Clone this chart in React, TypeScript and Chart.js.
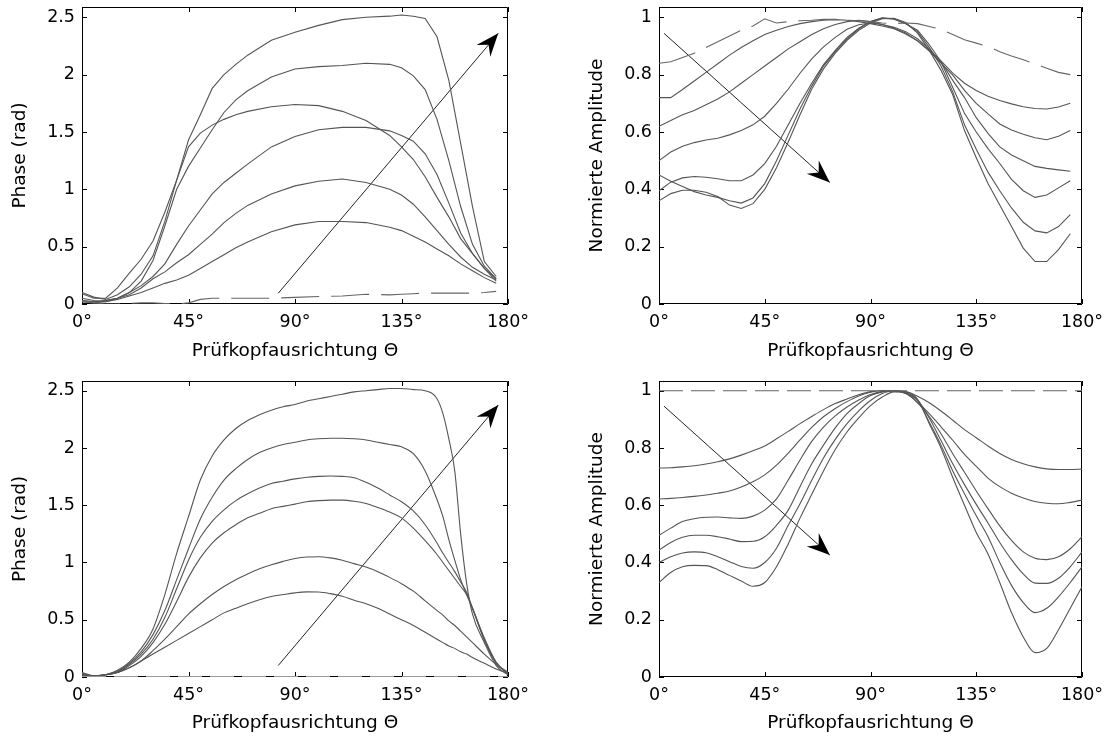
import React, { useEffect, useRef } from 'react';
import { Chart, registerables } from 'chart.js';

Chart.register(...registerables);
Chart.defaults.font.family = "'DejaVu Sans', sans-serif";
Chart.defaults.color = '#000';

// ---------- shared axis ticks ----------
const xTickValues = [0, 45, 90, 135, 180];
const phaseTickValues = [0, 0.5, 1, 1.5, 2, 2.5];
const ampTickValues = [0, 0.2, 0.4, 0.6, 0.8, 1];

const xTitle = 'Prüfkopfausrichtung Θ';
const phaseTitle = 'Phase (rad)';
const ampTitle = 'Normierte Amplitude';

// ---------- top-left: measured phase ----------
const tlAngles = [0, 5, 10, 15, 20, 25, 30, 35, 40, 45, 50, 55, 60, 65, 70, 80, 90, 100, 110, 120, 130, 135, 140, 145, 150, 155, 160, 165, 170, 175];
const tlRef = [0.02, 0.01, 0, 0, 0.005, 0.01, 0.01, 0.005, 0, 0.01, 0.04, 0.05, 0.05, 0.05, 0.05, 0.05, 0.058, 0.066, 0.07, 0.085, 0.08, 0.085, 0.09, 0.095, 0.095, 0.095, 0.095, 0.095, 0.1, 0.11];
const tlP073 = [0.05, 0.03, 0.02, 0.04, 0.07, 0.1, 0.14, 0.18, 0.21, 0.25, 0.31, 0.37, 0.43, 0.49, 0.54, 0.63, 0.69, 0.72, 0.72, 0.71, 0.67, 0.64, 0.59, 0.54, 0.48, 0.42, 0.35, 0.29, 0.23, 0.18];
const tlP110 = [0.03, 0.02, 0.03, 0.05, 0.08, 0.14, 0.22, 0.28, 0.36, 0.43, 0.52, 0.61, 0.71, 0.79, 0.86, 0.96, 1.03, 1.07, 1.09, 1.06, 1.0, 0.95, 0.87, 0.76, 0.64, 0.52, 0.41, 0.32, 0.26, 0.21];
const tlP154 = [0.02, 0.01, 0.02, 0.05, 0.1, 0.16, 0.24, 0.35, 0.52, 0.68, 0.82, 0.96, 1.06, 1.14, 1.22, 1.37, 1.46, 1.52, 1.54, 1.54, 1.51, 1.47, 1.42, 1.31, 1.13, 0.88, 0.62, 0.44, 0.31, 0.22];
const tlP174 = [0.09, 0.05, 0.05, 0.14, 0.27, 0.39, 0.55, 0.8, 1.08, 1.37, 1.49, 1.56, 1.61, 1.65, 1.68, 1.72, 1.74, 1.73, 1.68, 1.6, 1.47, 1.37, 1.26, 1.11, 0.93, 0.76, 0.57, 0.44, 0.31, 0.2];
const tlP210 = [0.03, 0.02, 0.03, 0.05, 0.1, 0.2, 0.38, 0.68, 1.0, 1.2, 1.36, 1.52, 1.67, 1.78, 1.86, 1.98, 2.05, 2.07, 2.08, 2.1, 2.09, 2.06, 1.99, 1.87, 1.61, 1.25, 0.85, 0.52, 0.33, 0.22];
const tlP250 = [0.1, 0.06, 0.04, 0.08, 0.15, 0.26, 0.42, 0.72, 1.08, 1.43, 1.65, 1.88, 2.0, 2.09, 2.17, 2.3, 2.37, 2.43, 2.48, 2.5, 2.51, 2.52, 2.51, 2.49, 2.33, 1.95, 1.4, 0.85, 0.37, 0.24];
const tlArrowX = [82.9, 175.9];
const tlArrowY = [0.093, 2.36];

// ---------- top-right: measured amplitude ----------
const trAngles = [0, 5, 10, 15, 20, 25, 30, 35, 40, 45, 50, 55, 60, 65, 70, 75, 80, 85, 90, 95, 100, 105, 110, 115, 120, 125, 130, 135, 140, 145, 150, 155, 160, 165, 170, 175];
const trRef = [0.84, 0.845, 0.86, 0.875, 0.895, 0.915, 0.935, 0.955, 0.97, 0.995, 0.98, 0.985, 0.988, 0.99, 0.993, 0.993, 0.99, 0.988, 0.985, 0.98, 0.978, 0.98, 0.978, 0.968, 0.958, 0.94, 0.922, 0.91, 0.898, 0.88, 0.865, 0.852, 0.838, 0.822, 0.808, 0.8];
const trC1 = [0.72, 0.72, 0.748, 0.778, 0.808, 0.838, 0.868, 0.895, 0.918, 0.94, 0.955, 0.968, 0.978, 0.985, 0.99, 0.992, 0.99, 0.985, 0.978, 0.97, 0.96, 0.942, 0.918, 0.885, 0.848, 0.805, 0.77, 0.745, 0.725, 0.71, 0.698, 0.688, 0.682, 0.68, 0.687, 0.7];
const trC2 = [0.62, 0.64, 0.66, 0.675, 0.695, 0.715, 0.74, 0.77, 0.8, 0.83, 0.86, 0.89, 0.915, 0.94, 0.96, 0.975, 0.985, 0.99, 0.985, 0.975, 0.962, 0.945, 0.918, 0.882, 0.84, 0.798, 0.745, 0.7, 0.663, 0.628, 0.607, 0.592, 0.58, 0.573, 0.585, 0.605];
const trC3 = [0.5, 0.53, 0.55, 0.563, 0.572, 0.578, 0.59, 0.605, 0.625, 0.655, 0.7, 0.75, 0.805, 0.855, 0.897, 0.93, 0.958, 0.974, 0.98, 0.975, 0.965, 0.95, 0.925, 0.89, 0.845, 0.78, 0.72, 0.65, 0.595, 0.548, 0.52, 0.5, 0.48, 0.473, 0.468, 0.463];
const trC4 = [0.395, 0.425, 0.44, 0.445, 0.442, 0.437, 0.43, 0.43, 0.45, 0.49, 0.55, 0.625, 0.7, 0.77, 0.835, 0.885, 0.93, 0.962, 0.985, 0.997, 0.993, 0.978, 0.955, 0.905, 0.845, 0.755, 0.665, 0.6, 0.542, 0.49, 0.435, 0.395, 0.372, 0.38, 0.405, 0.43];
const trC5 = [0.45, 0.428, 0.41, 0.392, 0.38, 0.372, 0.36, 0.352, 0.37, 0.42, 0.5, 0.59, 0.68, 0.76, 0.83, 0.88, 0.925, 0.96, 0.985, 0.998, 0.995, 0.978, 0.95, 0.895, 0.83, 0.74, 0.625, 0.54, 0.46, 0.395, 0.335, 0.285, 0.255, 0.248, 0.27, 0.312];
const trC6 = [0.36, 0.385, 0.397, 0.397, 0.39, 0.375, 0.345, 0.333, 0.35, 0.4, 0.475, 0.565, 0.66, 0.75, 0.82, 0.875, 0.92, 0.955, 0.98, 0.995, 0.997, 0.982, 0.945, 0.885, 0.815, 0.73, 0.605, 0.51, 0.42, 0.345, 0.27, 0.195, 0.148, 0.148, 0.19, 0.245];
const trArrowX = [2.16, 72.7];
const trArrowY = [0.944, 0.424];

// ---------- bottom-left: simulated phase ----------
const blAngles = [0, 5, 10, 15, 20, 25, 30, 35, 40, 45, 50, 55, 60, 65, 70, 75, 80, 85, 90, 95, 100, 105, 110, 115, 120, 125, 130, 135, 140, 145, 150, 152.5, 155, 157.5, 160, 162.5, 165, 170, 175, 180];
const blRef = [0.005, 0.005, 0.005, 0.005, 0.005, 0.005, 0.005, 0.005, 0.005, 0.005, 0.005, 0.005, 0.005, 0.005, 0.005, 0.005, 0.005, 0.005, 0.005, 0.005, 0.005, 0.005, 0.005, 0.005, 0.005, 0.005, 0.005, 0.005, 0.005, 0.005, 0.005, 0.005, 0.005, 0.005, 0.005, 0.005, 0.005, 0.005, 0.005, 0.005];
const blP074 = [0.02, 0.01, 0.02, 0.04, 0.08, 0.14, 0.2, 0.26, 0.32, 0.38, 0.44, 0.5, 0.56, 0.6, 0.64, 0.675, 0.703, 0.72, 0.735, 0.743, 0.742, 0.728, 0.705, 0.67, 0.64, 0.6, 0.55, 0.5, 0.45, 0.39, 0.33, 0.3, 0.27, 0.25, 0.22, 0.2, 0.17, 0.12, 0.07, 0.03];
const blP105 = [0.02, 0.01, 0.02, 0.04, 0.08, 0.14, 0.23, 0.33, 0.44, 0.55, 0.64, 0.72, 0.79, 0.85, 0.9, 0.945, 0.98, 1.01, 1.035, 1.048, 1.05, 1.04, 1.02, 0.99, 0.96, 0.92, 0.87, 0.815, 0.75, 0.665, 0.58, 0.54, 0.49, 0.45, 0.4, 0.35, 0.3, 0.2, 0.11, 0.04];
const blP155 = [0.02, 0.01, 0.02, 0.04, 0.1, 0.18, 0.3, 0.46, 0.66, 0.87, 1.04, 1.17, 1.26, 1.33, 1.39, 1.43, 1.47, 1.49, 1.51, 1.53, 1.54, 1.545, 1.545, 1.535, 1.515, 1.48, 1.44, 1.39, 1.3, 1.19, 1.07, 1.0, 0.93, 0.86, 0.79, 0.72, 0.6, 0.34, 0.13, 0.03];
const blP176 = [0.03, 0.01, 0.02, 0.05, 0.11, 0.2, 0.33, 0.52, 0.77, 1.02, 1.22, 1.36, 1.46, 1.54, 1.6, 1.65, 1.69, 1.71, 1.73, 1.745, 1.752, 1.755, 1.752, 1.74, 1.7, 1.65, 1.59, 1.53, 1.45, 1.33, 1.17, 1.08, 1.0, 0.92, 0.83, 0.74, 0.6, 0.32, 0.12, 0.03];
const blP208 = [0.03, 0.01, 0.02, 0.05, 0.12, 0.22, 0.37, 0.58, 0.85, 1.12, 1.38, 1.57, 1.72, 1.82, 1.9, 1.96, 2.0, 2.03, 2.05, 2.07, 2.08, 2.085, 2.085, 2.08, 2.07, 2.05, 2.03, 2.01, 1.95, 1.8, 1.55, 1.4, 1.2, 1.02, 0.85, 0.72, 0.6, 0.33, 0.12, 0.03];
const blP252 = [0.04, 0.01, 0.02, 0.06, 0.13, 0.25, 0.42, 0.72, 1.08, 1.4, 1.72, 1.93, 2.07, 2.17, 2.24, 2.29, 2.33, 2.36, 2.38, 2.41, 2.43, 2.45, 2.47, 2.49, 2.5, 2.51, 2.52, 2.52, 2.51, 2.5, 2.43, 2.3, 2.08, 1.8, 1.25, 0.82, 0.55, 0.3, 0.1, 0.02];
const blArrowX = [82.9, 175.9];
const blArrowY = [0.1, 2.375];

// ---------- bottom-right: simulated amplitude ----------
const brAngles = [0, 5, 10, 15, 20, 25, 30, 35, 40, 45, 50, 55, 60, 65, 70, 75, 80, 85, 90, 95, 100, 105, 110, 115, 120, 125, 130, 135, 140, 145, 150, 155, 160, 165, 170, 175, 180];
const brRef = [1, 1, 1, 1, 1, 1, 1, 1, 1, 1, 1, 1, 1, 1, 1, 1, 1, 1, 1, 1, 1, 1, 1, 1, 1, 1, 1, 1, 1, 1, 1, 1, 1, 1, 1, 1, 1];
const brC1 = [0.73, 0.731, 0.734, 0.738, 0.744, 0.752, 0.762, 0.775, 0.79, 0.807, 0.832, 0.858, 0.885, 0.91, 0.934, 0.955, 0.971, 0.986, 0.997, 1.0, 1.0, 0.997, 0.981, 0.958, 0.929, 0.897, 0.864, 0.836, 0.807, 0.781, 0.76, 0.745, 0.734, 0.727, 0.725, 0.725, 0.726];
const brC2 = [0.622, 0.624, 0.627, 0.631, 0.636, 0.642, 0.65, 0.664, 0.682, 0.706, 0.74, 0.782, 0.828, 0.872, 0.909, 0.938, 0.962, 0.982, 0.995, 1.0, 1.0, 0.993, 0.96, 0.92, 0.874, 0.827, 0.778, 0.736, 0.695, 0.665, 0.642, 0.625, 0.613, 0.607, 0.605, 0.61, 0.618];
const brC3 = [0.495, 0.52, 0.543, 0.553, 0.558, 0.559, 0.556, 0.554, 0.562, 0.583, 0.622, 0.688, 0.758, 0.823, 0.873, 0.912, 0.943, 0.968, 0.987, 0.997, 1.0, 0.99, 0.958, 0.91, 0.85, 0.78, 0.715, 0.65, 0.588, 0.528, 0.477, 0.437, 0.415, 0.41, 0.42, 0.448, 0.49];
const brC4 = [0.443, 0.47, 0.488, 0.495, 0.495, 0.49, 0.482, 0.473, 0.474, 0.49, 0.53, 0.583, 0.665, 0.745, 0.81, 0.87, 0.92, 0.955, 0.983, 0.996, 1.0, 0.99, 0.968, 0.905, 0.826, 0.745, 0.672, 0.603, 0.538, 0.47, 0.41, 0.36, 0.328, 0.327, 0.345, 0.385, 0.437];
const brC5 = [0.4, 0.42, 0.433, 0.437, 0.434, 0.42, 0.403, 0.386, 0.38, 0.4, 0.45, 0.53, 0.605, 0.687, 0.765, 0.83, 0.885, 0.93, 0.966, 0.99, 1.0, 0.993, 0.968, 0.89, 0.81, 0.72, 0.64, 0.563, 0.49, 0.4, 0.32, 0.26, 0.225, 0.24, 0.28, 0.33, 0.385];
const brC6 = [0.33, 0.365, 0.385, 0.39, 0.389, 0.375, 0.355, 0.335, 0.317, 0.33, 0.385, 0.465, 0.555, 0.638, 0.72, 0.795, 0.856, 0.905, 0.948, 0.978, 0.996, 0.995, 0.97, 0.885, 0.8, 0.697, 0.6, 0.505, 0.43, 0.33, 0.225, 0.14, 0.085, 0.1, 0.165, 0.24, 0.315];
const brArrowX = [2.16, 72.7];
const brArrowY = [0.946, 0.426];

// ---------- plugins ----------
const frameTicksPlugin = {
  id: 'frameTicks',
  beforeDatasetsDraw(chart: any) {
    const { ctx, chartArea: a } = chart;
    const xs = chart.scales.x;
    const ys = chart.scales.y;
    ctx.save();
    ctx.strokeStyle = '#000';
    ctx.lineWidth = 1;
    ctx.beginPath();
    ctx.rect(a.left + 0.5, a.top + 0.5, a.right - a.left - 1, a.bottom - a.top - 1);
    const tl = 5;
    xs.ticks.forEach((t: any) => {
      const px = Math.round(xs.getPixelForValue(t.value)) + 0.5;
      ctx.moveTo(px, a.bottom);
      ctx.lineTo(px, a.bottom - tl);
      ctx.moveTo(px, a.top);
      ctx.lineTo(px, a.top + tl);
    });
    ys.ticks.forEach((t: any) => {
      const py = Math.round(ys.getPixelForValue(t.value)) + 0.5;
      ctx.moveTo(a.left, py);
      ctx.lineTo(a.left + tl, py);
      ctx.moveTo(a.right, py);
      ctx.lineTo(a.right - tl, py);
    });
    ctx.stroke();
    ctx.restore();
  },
};

const arrowHeadPlugin = {
  id: 'arrowHead',
  afterDatasetsDraw(chart: any) {
    const { ctx } = chart;
    chart.data.datasets.forEach((ds: any, i: number) => {
      if (!ds.isArrow) return;
      const meta = chart.getDatasetMeta(i);
      const p0 = meta.data[0];
      const p1 = meta.data[meta.data.length - 1];
      const dx = p1.x - p0.x;
      const dy = p1.y - p0.y;
      const len = Math.hypot(dx, dy) || 1;
      const ux = dx / len;
      const uy = dy / len;
      const nx = -uy;
      const ny = ux;
      const L = 23;
      const W = 9;
      const N = 15;
      ctx.save();
      ctx.fillStyle = '#000';
      ctx.beginPath();
      ctx.moveTo(p1.x, p1.y);
      ctx.lineTo(p1.x - ux * L + nx * W, p1.y - uy * L + ny * W);
      ctx.lineTo(p1.x - ux * N, p1.y - uy * N);
      ctx.lineTo(p1.x - ux * L - nx * W, p1.y - uy * L - ny * W);
      ctx.closePath();
      ctx.fill();
      ctx.restore();
    });
  },
};

// ---------- panel definitions ----------
type Panel = {
  key: string;
  left: number;
  top: number;
  angles: number[];
  curves: number[][];
  ref: number[];
  refColor: string;
  dash: number[];
  arrowX: number[];
  arrowY: number[];
  yMax: number;
  yTicks: number[];
  yTitle: string;
  smooth: boolean;
  L: number;
  T: number;
  R: number;
  B: number;
  yTitlePad: number;
  xTitlePad: number;
};

const CW = 556;
const CH = 370;

const panels: Panel[] = [
  {
    key: 'tl', left: 0, top: 0,
    angles: tlAngles, curves: [tlP073, tlP110, tlP154, tlP174, tlP210, tlP250], ref: tlRef, refColor: '#666', dash: [38, 12],
    arrowX: tlArrowX, arrowY: tlArrowY, yMax: 2.59, yTicks: phaseTickValues, yTitle: phaseTitle, smooth: false,
    L: 82, T: 7, R: 48, B: 66, yTitlePad: 8.9, xTitlePad: 7.9,
  },
  {
    key: 'tr', left: 556, top: 0,
    angles: trAngles, curves: [trC1, trC2, trC3, trC4, trC5, trC6], ref: trRef, refColor: '#666', dash: [38, 12],
    arrowX: trArrowX, arrowY: trArrowY, yMax: 1.036, yTicks: ampTickValues, yTitle: ampTitle, smooth: false,
    L: 103, T: 7, R: 30, B: 66, yTitlePad: 30.4, xTitlePad: 7.9,
  },
  {
    key: 'bl', left: 0, top: 370,
    angles: blAngles, curves: [blP074, blP105, blP155, blP176, blP208, blP252], ref: blRef, refColor: '#999', dash: [24, 8],
    arrowX: blArrowX, arrowY: blArrowY, yMax: 2.585, yTicks: phaseTickValues, yTitle: phaseTitle, smooth: true,
    L: 82, T: 11, R: 48, B: 63, yTitlePad: 8.9, xTitlePad: 5.9,
  },
  {
    key: 'br', left: 556, top: 370,
    angles: brAngles, curves: [brC1, brC2, brC3, brC4, brC5, brC6], ref: brRef, refColor: '#666', dash: [24, 8],
    arrowX: brArrowX, arrowY: brArrowY, yMax: 1.034, yTicks: ampTickValues, yTitle: ampTitle, smooth: true,
    L: 103, T: 11, R: 30, B: 63, yTitlePad: 30.4, xTitlePad: 5.9,
  },
];

function buildConfig(p: Panel): any {
  const curveColor = '#555';
  const datasets: any[] = [];
  datasets.push({
    data: p.angles.map((a, i) => ({ x: a, y: p.ref[i] })),
    borderColor: p.refColor,
    borderWidth: 1.1,
    borderDash: p.dash,
    pointRadius: 0,
    tension: 0,
    fill: false,
  });
  p.curves.forEach((c) => {
    datasets.push({
      data: p.angles.map((a, i) => ({ x: a, y: c[i] })),
      borderColor: curveColor,
      borderWidth: 1.1,
      pointRadius: 0,
      tension: 0,
      cubicInterpolationMode: p.smooth ? 'monotone' : 'default',
      fill: false,
    });
  });
  datasets.push({
    data: p.arrowX.map((x, i) => ({ x, y: p.arrowY[i] })),
    borderColor: '#222',
    borderWidth: 1,
    pointRadius: 0,
    tension: 0,
    fill: false,
    isArrow: true,
  });

  const tickFont = { family: "'DejaVu Sans', sans-serif", size: 17.5 };
  const titleFont = { family: "'DejaVu Sans', sans-serif", size: 18.5 };

  return {
    type: 'line',
    data: { datasets },
    options: {
      animation: false,
      responsive: false,
      devicePixelRatio: 1,
      events: [],
      layout: { padding: { left: 0, top: p.T, right: p.R, bottom: 0 } },
      plugins: { legend: { display: false }, tooltip: { enabled: false } },
      scales: {
        x: {
          type: 'linear',
          min: 0,
          max: 180,
          afterBuildTicks: (s: any) => {
            s.ticks = xTickValues.map((v) => ({ value: v }));
          },
          afterFit: (s: any) => {
            s.height = p.B;
            s.paddingLeft = 0;
            s.paddingRight = 0;
          },
          ticks: {
            callback: (v: any) => `${v}°`,
            font: tickFont,
            color: '#000',
            padding: 8,
            maxRotation: 0,
            autoSkip: false,
          },
          grid: { display: false, drawTicks: false },
          border: { display: false },
          title: {
            display: true,
            text: xTitle,
            font: titleFont,
            color: '#000',
            padding: { top: 0, bottom: p.xTitlePad },
          },
        },
        y: {
          type: 'linear',
          min: 0,
          max: p.yMax,
          afterBuildTicks: (s: any) => {
            s.ticks = p.yTicks.map((v) => ({ value: v }));
          },
          afterFit: (s: any) => {
            s.width = p.L;
            s.paddingTop = 0;
            s.paddingBottom = 0;
          },
          ticks: {
            callback: (v: any) => String(v),
            font: tickFont,
            color: '#000',
            padding: 7,
            autoSkip: false,
          },
          grid: { display: false, drawTicks: false },
          border: { display: false },
          title: {
            display: true,
            text: p.yTitle,
            font: titleFont,
            color: '#000',
            padding: { top: p.yTitlePad, bottom: 0 },
          },
        },
      },
    },
    plugins: [frameTicksPlugin, arrowHeadPlugin],
  };
}

function PanelChart({ p }: { p: Panel }) {
  const ref = useRef<HTMLCanvasElement | null>(null);
  useEffect(() => {
    if (!ref.current) return;
    const chart = new Chart(ref.current, buildConfig(p));
    return () => chart.destroy();
  }, [p]);
  return (
    <canvas
      ref={ref}
      width={CW}
      height={CH}
      style={{ position: 'absolute', left: p.left, top: p.top, width: CW, height: CH }}
    />
  );
}

export default function App() {
  return (
    <div style={{ position: 'fixed', left: 0, top: 0, width: 1112, height: 740, background: '#fff', overflow: 'hidden' }}>
      {panels.map((p) => (
        <PanelChart key={p.key} p={p} />
      ))}
    </div>
  );
}
